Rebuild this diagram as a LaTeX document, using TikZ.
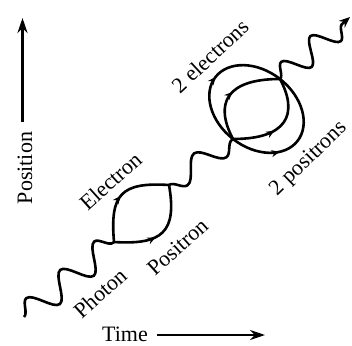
\documentclass[tikz,border=0pt]{standalone}
\usepackage{fontspec}
\setmainfont{Liberation Serif}
\usetikzlibrary{arrows.meta,decorations.pathmorphing,decorations.markings}

\begin{document}
\begin{tikzpicture}[x=1pt,y=1pt,line width=2.6pt,
 font=\fontsize{22}{26}\selectfont,
 axis/.style={-{Stealth[length=15pt,width=10pt]}},
 photon/.style={decorate,decoration={snake,amplitude=13pt,segment length=#1}},
 fermion/.style={postaction={decorate},decoration={markings,
   mark=at position #1 with {\arrow{Stealth[length=8pt,width=7pt]}}}},
 lab/.style={inner sep=0pt}]
\useasboundingbox (0,0) rectangle (352,345);
% vertices
\coordinate (s) at (24,28);
\coordinate (v1) at (114,103);
\coordinate (v2) at (169,160);
\coordinate (v3) at (233,206);
\coordinate (v4) at (280,266);
\coordinate (o1) at (215.5,268);
\coordinate (o2) at (297.5,204);
\coordinate (e) at (350,328);
% photons
\draw[photon=44.2pt] (s) -- (v1);
\draw[photon=47.8pt,decoration={mirror,amplitude=11pt}] (v2) -- (v3);
\draw[photon=39pt,decoration={post length=10pt,amplitude=12pt},-{Stealth[length=11pt,width=9pt]}] (v4) -- (e);
% one pair
\draw[fermion=.48] (v1) .. controls +(95:48) and +(-48,3) .. (v2);
\draw[fermion=.42] (v1) .. controls +(48,-3) and +(-80:48) .. (v2);
% two pairs
\draw[fermion=.5] (v3) .. controls +(118:40) and +(-54,0) .. (v4);
\draw[fermion=.42] (v3) .. controls +(54,0) and +(-62:40) .. (v4);
\draw[fermion=.5] (v3) .. controls +(-22.6,17.7) and +(-12.9,-16.5) .. (o1)
  .. controls +(12.9,16.5) and +(-22.6,17.7) .. (v4);
\draw[fermion=.35] (v3) .. controls +(22.6,-17.7) and +(-12.9,-16.5) .. (o2)
  .. controls +(12.9,16.5) and +(22.6,-17.7) .. (v4);
% labels
\node[lab,rotate=42] (photon) at (100,52) {Photon};
\node[lab,rotate=42] (positron) at (177.5,98) {Positron};
\node[lab,rotate=42] (electron) at (110.5,164) {Electron};
\node[lab,rotate=43] (electrons) at (210,289) {2 electrons};
\node[lab,rotate=44] (positrons) at (309.5,186) {2 positrons};
% axes
\node[lab,rotate=90,anchor=base] (position) at (32,177) {Position};
\coordinate (p0) at (22.5,223);
\coordinate (p1) at (22.5,327);
\draw[axis] (p0) -- (p1);
\node[lab,anchor=base] (time) at (125,4) {Time};
\coordinate (t0) at (157,10);
\coordinate (t1) at (265,10);
\draw[axis,line width=2.2pt] (t0) -- (t1);
\end{tikzpicture}
\end{document}
